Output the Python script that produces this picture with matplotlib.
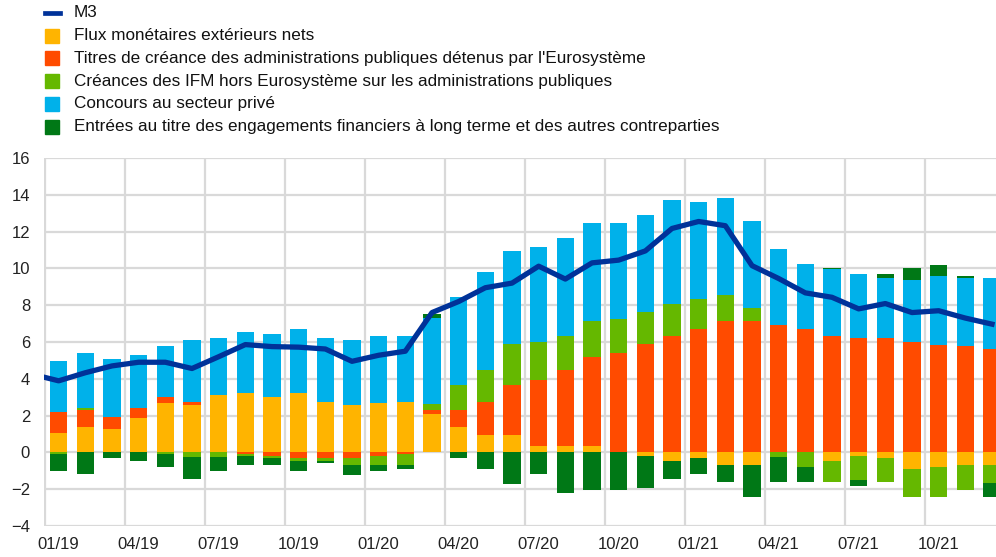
import numpy as np
import matplotlib
matplotlib.use('Agg')
import matplotlib.pyplot as plt
from matplotlib.patches import Rectangle
from matplotlib.lines import Line2D

# monthly data, 01/19 .. 12/21
months = ['01/19', '02/19', '03/19', '04/19', '05/19', '06/19', '07/19', '08/19', '09/19',
          '10/19', '11/19', '12/19', '01/20', '02/20', '03/20', '04/20', '05/20', '06/20',
          '07/20', '08/20', '09/20', '10/20', '11/20', '12/20', '01/21', '02/21', '03/21',
          '04/21', '05/21', '06/21', '07/21', '08/21', '09/21', '10/21', '11/21', '12/21']
tick_labels = ['01/19', '04/19', '07/19', '10/19', '01/20', '04/20',
               '07/20', '10/20', '01/21', '04/21', '07/21', '10/21']

flux = [1.05, 1.39, 1.26, 1.85, 2.66, 2.56, 3.11, 3.21, 3.00, 3.21, 2.76, 2.55,
        2.66, 2.76, 2.08, 1.39, 0.94, 0.94, 0.36, 0.36, 0.36, 0.00, -0.18, -0.47,
        -0.30, -0.66, -0.66, 0.00, 0.00, -0.47, -0.20, -0.33, -0.91, -0.79, -0.66, -0.66]
titres = [1.12, 0.94, 0.67, 0.55, 0.33, 0.19, 0.00, -0.08, -0.17, -0.33, -0.33, -0.33,
          -0.19, -0.10, 0.21, 0.94, 1.82, 2.75, 3.56, 4.14, 4.83, 5.41, 5.88, 6.33,
          6.68, 7.15, 7.15, 6.91, 6.68, 6.31, 6.22, 6.22, 6.00, 5.86, 5.77, 5.64]
creances = [-0.10, 0.09, 0.00, 0.00, -0.10, -0.24, -0.25, -0.12, -0.15, -0.13, -0.13, -0.35,
            -0.47, -0.56, 0.35, 1.36, 1.74, 2.21, 2.07, 1.83, 1.96, 1.83, 1.73, 1.72,
            1.63, 1.39, 0.68, -0.25, -0.79, -1.13, -1.28, -1.27, -1.51, -1.63, -1.39, -1.03]
concours = [2.79, 2.99, 3.15, 2.92, 2.78, 3.38, 3.11, 3.36, 3.46, 3.47, 3.46, 3.58,
            3.68, 3.59, 4.69, 4.76, 5.31, 5.05, 5.18, 5.31, 5.30, 5.21, 5.29, 5.65,
            5.31, 5.31, 4.73, 4.17, 3.58, 3.64, 3.50, 3.26, 3.39, 3.71, 3.71, 3.84]
entrees = [-0.90, -1.15, -0.33, -0.46, -0.70, -1.23, -0.76, -0.48, -0.36, -0.55, -0.11, -0.56,
           -0.36, -0.25, 0.18, -0.33, -0.91, -1.70, -1.15, -2.18, -2.07, -2.07, -1.75, -1.00,
           -0.85, -0.94, -1.76, -1.35, -0.81, 0.09, -0.36, 0.20, 0.64, 0.60, 0.09, -0.73]
# M3 starts with 12/18 (clipped at the left edge)
m3 = [4.25, 3.89, 4.33, 4.70, 4.90, 4.90, 4.56, 5.20, 5.86, 5.75, 5.72, 5.62, 4.95,
      5.28, 5.50, 7.60, 8.20, 8.95, 9.20, 10.12, 9.42, 10.30, 10.45, 10.95, 12.17,
      12.55, 12.32, 10.15, 9.45, 8.67, 8.43, 7.80, 8.09, 7.60, 7.70, 7.30, 6.97]

labels = ['M3',
          'Flux monétaires extérieurs nets',
          "Titres de créance des administrations publiques détenus par l'Eurosystème",
          'Créances des IFM hors Eurosystème sur les administrations publiques',
          'Concours au secteur privé',
          'Entrées au titre des engagements financiers à long terme et des autres contreparties']
colours = ['#003299', '#FFB400', '#FF4B00', '#65B800', '#00B1EA', '#007816']

series = [flux, titres, creances, concours, entrees]

fig = plt.figure(figsize=(9.96, 5.57), dpi=100)
ax = fig.add_axes([44/996, 31/557, 952/996, 368/557])

x = np.arange(len(months))
pos_base = np.zeros(len(months))
neg_base = np.zeros(len(months))
for vals, col in zip(series, colours[1:]):
    v = np.array(vals)
    bottom = np.where(v >= 0, pos_base, neg_base)
    ax.bar(x, v, 0.65, bottom=bottom, color=col, linewidth=0, zorder=2)
    pos_base = pos_base + np.clip(v, 0, None)
    neg_base = neg_base + np.clip(v, None, 0)

ax.plot(np.arange(-1, len(months)), m3, color=colours[0], lw=3.8, zorder=3,
        solid_joinstyle='round')

ax.set_xlim(-0.55, 35.15)
ax.set_ylim(-4, 16)
ax.set_yticks(range(-4, 17, 2))
ax.set_xticks([months.index(t) for t in tick_labels])
ax.set_xticklabels(tick_labels)
ax.set_xticks(np.arange(-0.5, 35, 3), minor=True)
ax.tick_params(which='both', length=0)
ax.tick_params(axis='y', pad=10)
ax.tick_params(axis='x', pad=8)
for t in ax.get_xticklabels() + ax.get_yticklabels():
    t.set_fontsize(12)
    t.set_family('Liberation Sans')
    t.set_color('#222222')

ax.grid(axis='y', color='#D9D9D9', lw=1.6, zorder=0)
ax.grid(axis='x', which='minor', color='#D9D9D9', lw=1.6, zorder=0)
for s in ax.spines.values():
    s.set_visible(False)

# legend drawn by hand at the top left
leg_y = [12.5, 35.5, 58.3, 81.2, 104, 127]
for i, (lab, col) in enumerate(zip(labels, colours)):
    yf = 1 - leg_y[i] / 557
    if i == 0:
        fig.add_artist(Line2D([45/996, 60/996], [yf, yf], color=col, lw=3.4))
    else:
        fig.add_artist(Rectangle((45/996, yf - 7/557), 14/996, 14/557,
                                 color=col, transform=fig.transFigure))
    fig.text(74/996, yf, lab, fontsize=12.3, va='center', ha='left', color='#111111',
             family='Liberation Sans')

fig.savefig('out.png', dpi=100)
